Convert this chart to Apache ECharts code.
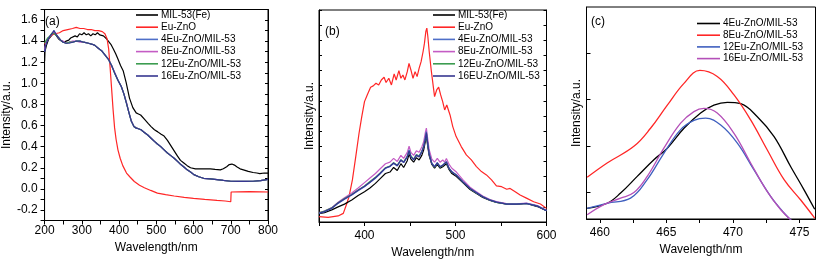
<!DOCTYPE html>
<html>
<head>
<meta charset="utf-8">
<script src="https://cdn.jsdelivr.net/npm/echarts@6/dist/echarts.min.js"></script>
<style>
  html, body { margin: 0; padding: 0; background: #fff; }
  #chart { width: 819px; height: 266px; }
</style>
</head>
<body>
<div id="chart"></div>
<script>
/* ---------------- panel (a): UV-vis ---------------- */
const aMilWl = [200, 201, 205, 211, 218, 225, 232, 238, 245, 252, 258, 265, 270, 275, 282, 288, 294, 300, 306, 312, 318, 324, 330, 336, 342, 348, 353, 358, 362, 367, 371, 378, 384, 391, 397, 404, 411, 419, 428, 437, 446, 452, 458, 468, 478, 486, 495, 504, 512, 521, 530, 539, 548, 557, 565, 574, 583, 592, 605, 619, 632, 645, 658, 672, 680, 689, 696, 703, 710, 716, 725, 734, 747, 760, 770, 778, 790, 800];
const aMil = [1.21, 1.30, 1.36, 1.42, 1.45, 1.48, 1.45, 1.42, 1.40, 1.39, 1.40, 1.41, 1.43, 1.42, 1.45, 1.44, 1.47, 1.46, 1.48, 1.46, 1.47, 1.45, 1.47, 1.46, 1.48, 1.46, 1.47, 1.45, 1.44, 1.42, 1.41, 1.37, 1.33, 1.28, 1.23, 1.17, 1.12, 1.01, 0.86, 0.77, 0.72, 0.71, 0.70, 0.66, 0.62, 0.59, 0.56, 0.54, 0.52, 0.50, 0.46, 0.41, 0.36, 0.31, 0.27, 0.245, 0.22, 0.20, 0.19, 0.19, 0.19, 0.19, 0.185, 0.18, 0.19, 0.21, 0.23, 0.235, 0.225, 0.21, 0.19, 0.18, 0.165, 0.155, 0.15, 0.145, 0.15, 0.15];

const aZnoWl = [200, 205, 212, 220, 228, 240, 250, 262, 275, 285, 295, 305, 315, 325, 335, 345, 355, 362, 368, 372, 376, 380, 384, 388, 392, 397, 403, 410, 420, 430, 441, 455, 468, 485, 503, 525, 548, 575, 600, 630, 663, 685, 700, 701, 720, 751, 780, 800];
const aZno = [1.37, 1.40, 1.43, 1.46, 1.47, 1.48, 1.50, 1.51, 1.52, 1.53, 1.52, 1.52, 1.51, 1.51, 1.50, 1.50, 1.49, 1.47, 1.42, 1.33, 1.15, 0.95, 0.75, 0.58, 0.47, 0.37, 0.29, 0.22, 0.15, 0.11, 0.07, 0.035, 0.01, -0.015, -0.04, -0.055, -0.068, -0.08, -0.09, -0.10, -0.11, -0.115, -0.122, -0.03, -0.028, -0.027, -0.028, -0.03];

const aMixWl = [200, 203, 208, 215, 220, 225, 230, 236, 243, 250, 258, 266, 275, 285, 295, 305, 318, 328, 335, 345, 353, 362, 371, 380, 389, 397, 406, 413, 420, 426, 433, 440, 446, 452, 459, 468, 477, 486, 495, 503, 512, 521, 530, 539, 548, 557, 566, 575, 583, 592, 601, 614, 627, 645, 663, 680, 700, 720, 740, 760, 780, 800];
const a4Eu = [1.30, 1.37, 1.41, 1.45, 1.47, 1.50, 1.47, 1.44, 1.41, 1.39, 1.38, 1.39, 1.39, 1.40, 1.40, 1.39, 1.38, 1.37, 1.36, 1.33, 1.31, 1.27, 1.23, 1.17, 1.09, 1.03, 0.97, 0.90, 0.81, 0.73, 0.64, 0.59, 0.575, 0.57, 0.56, 0.535, 0.51, 0.48, 0.45, 0.425, 0.40, 0.37, 0.34, 0.315, 0.29, 0.26, 0.23, 0.205, 0.18, 0.16, 0.135, 0.115, 0.10, 0.095, 0.088, 0.08, 0.072, 0.07, 0.07, 0.072, 0.078, 0.09];
const a8Eu = [1.32, 1.38, 1.42, 1.45, 1.47, 1.49, 1.47, 1.44, 1.41, 1.40, 1.38, 1.39, 1.40, 1.40, 1.39, 1.39, 1.38, 1.37, 1.36, 1.33, 1.31, 1.27, 1.23, 1.17, 1.10, 1.03, 0.97, 0.90, 0.82, 0.73, 0.645, 0.59, 0.58, 0.57, 0.56, 0.535, 0.51, 0.48, 0.45, 0.425, 0.40, 0.37, 0.34, 0.315, 0.29, 0.26, 0.23, 0.205, 0.18, 0.16, 0.135, 0.115, 0.10, 0.094, 0.087, 0.08, 0.072, 0.07, 0.07, 0.072, 0.078, 0.09];
const a12Eu = [1.38, 1.40, 1.43, 1.45, 1.48, 1.49, 1.46, 1.44, 1.41, 1.39, 1.38, 1.39, 1.39, 1.40, 1.40, 1.39, 1.38, 1.37, 1.36, 1.33, 1.31, 1.27, 1.23, 1.17, 1.09, 1.03, 0.97, 0.90, 0.81, 0.73, 0.64, 0.59, 0.578, 0.57, 0.56, 0.535, 0.51, 0.48, 0.45, 0.425, 0.40, 0.37, 0.34, 0.315, 0.29, 0.26, 0.23, 0.205, 0.18, 0.16, 0.135, 0.115, 0.10, 0.095, 0.088, 0.08, 0.072, 0.07, 0.07, 0.072, 0.078, 0.09];
const a16Eu = [1.30, 1.36, 1.41, 1.45, 1.47, 1.50, 1.47, 1.44, 1.41, 1.39, 1.38, 1.38, 1.39, 1.40, 1.40, 1.39, 1.38, 1.37, 1.36, 1.33, 1.31, 1.27, 1.23, 1.17, 1.09, 1.03, 0.97, 0.90, 0.81, 0.73, 0.64, 0.59, 0.575, 0.57, 0.56, 0.535, 0.51, 0.48, 0.45, 0.425, 0.40, 0.37, 0.34, 0.315, 0.29, 0.26, 0.23, 0.205, 0.18, 0.16, 0.135, 0.115, 0.10, 0.095, 0.088, 0.08, 0.072, 0.07, 0.07, 0.072, 0.078, 0.09];

/* ---------------- panel (b): PL spectra ---------------- */
const bZnoWl = [350, 360, 371, 376.7, 380, 383, 386.7, 390.4, 394, 397, 400, 403, 406.7, 409.6, 412.6, 415.6, 418.5, 421.5, 423.7, 426.7, 429.6, 432.6, 434.8, 437.8, 440, 442.2, 444.4, 447, 448.9, 451, 453.3, 455.6, 457.8, 460, 462.2, 464.4, 465.9, 467.4, 468.5, 469.6, 471.1, 473.3, 475.6, 477, 479.3, 481.5, 483.7, 485.9, 488.1, 490.4, 491.9, 494, 497, 500.7, 506.3, 511.9, 517.4, 523, 528.5, 534, 539.6, 545, 550.7, 556.3, 560, 565.6, 571, 578.5, 585.9, 593.3, 600];
const bZno = [0.35, 0.31, 0.40, 0.57, 1.12, 1.67, 2.78, 4.32, 5.86, 6.96, 7.95, 8.39, 8.90, 8.99, 9.16, 9.05, 9.38, 9.56, 9.21, 9.49, 9.05, 9.78, 9.38, 10.0, 9.49, 9.71, 9.38, 9.93, 10.48, 10.04, 9.49, 9.93, 9.60, 10.15, 10.59, 11.26, 11.81, 12.58, 12.80, 12.25, 11.26, 10.04, 8.94, 8.28, 8.72, 8.90, 8.39, 7.95, 7.40, 7.73, 7.84, 7.07, 6.30, 5.64, 4.98, 4.43, 4.10, 3.66, 3.33, 3.11, 2.78, 2.38, 2.33, 2.16, 2.22, 2.00, 1.78, 1.56, 1.34, 1.19, 0.90];

const bMixWl = [350, 356, 364, 371, 378, 386, 393, 400, 406, 412, 417, 423, 428, 432, 436, 440, 443, 447, 449, 451, 454, 457, 460, 463, 465, 467, 468, 469, 471, 474, 477, 480, 483, 486, 488, 490, 493, 496, 501, 508, 516, 523, 530, 538, 545, 556, 567, 578, 590, 600];
const bMil = [0.55, 0.62, 0.80, 1.00, 1.18, 1.45, 1.75, 2.00, 2.25, 2.55, 2.85, 3.20, 3.30, 3.60, 3.40, 3.85, 3.60, 4.05, 4.50, 4.15, 3.95, 4.25, 4.10, 4.40, 4.75, 5.35, 5.75, 5.20, 4.40, 3.80, 3.55, 3.80, 3.55, 3.65, 3.55, 3.85, 3.45, 3.20, 3.00, 2.60, 2.15, 1.88, 1.62, 1.42, 1.30, 1.20, 1.16, 1.22, 1.02, 0.74];
const b4Eu = [0.57, 0.68, 0.90, 1.23, 1.50, 1.78, 2.07, 2.33, 2.60, 2.89, 3.17, 3.55, 3.66, 3.88, 3.70, 4.10, 3.92, 4.32, 4.76, 4.32, 4.10, 4.43, 4.32, 4.65, 4.98, 5.64, 5.97, 5.42, 4.54, 3.88, 3.66, 3.92, 3.66, 3.77, 3.66, 3.99, 3.55, 3.33, 3.11, 2.67, 2.22, 1.94, 1.67, 1.45, 1.32, 1.19, 1.19, 1.23, 1.06, 0.75];
const b8Eu = [0.62, 0.72, 0.95, 1.30, 1.60, 1.92, 2.25, 2.60, 2.90, 3.20, 3.50, 3.85, 3.95, 4.20, 4.00, 4.40, 4.20, 4.60, 5.00, 4.60, 4.40, 4.70, 4.60, 4.95, 5.30, 5.95, 6.20, 5.70, 4.80, 4.15, 3.95, 4.20, 3.95, 4.10, 3.95, 4.20, 3.80, 3.55, 3.30, 2.80, 2.30, 2.00, 1.72, 1.48, 1.35, 1.22, 1.20, 1.25, 1.08, 0.78];
const b12Eu = [0.60, 0.72, 0.93, 1.27, 1.55, 1.82, 2.12, 2.38, 2.68, 2.95, 3.22, 3.58, 3.70, 3.92, 3.75, 4.12, 3.96, 4.35, 4.72, 4.36, 4.15, 4.46, 4.35, 4.68, 5.00, 5.55, 5.85, 5.35, 4.50, 3.85, 3.62, 3.88, 3.62, 3.74, 3.62, 3.95, 3.52, 3.30, 3.10, 2.65, 2.20, 1.92, 1.66, 1.44, 1.30, 1.18, 1.18, 1.22, 1.05, 0.74];
const b16Eu = [0.58, 0.69, 0.91, 1.25, 1.52, 1.80, 2.10, 2.36, 2.63, 2.92, 3.20, 3.56, 3.68, 3.90, 3.72, 4.08, 3.94, 4.30, 4.70, 4.30, 4.12, 4.40, 4.30, 4.62, 4.95, 5.50, 5.90, 5.40, 4.50, 3.86, 3.64, 3.90, 3.64, 3.75, 3.64, 3.96, 3.52, 3.31, 3.09, 2.66, 2.21, 1.93, 1.66, 1.44, 1.31, 1.18, 1.18, 1.22, 1.05, 0.74];

/* ---------------- panel (c): zoom on 468 nm peak ---------------- */
const c4EuWl = [459.05, 460.55, 461.56, 462.81, 464.06, 465.07, 466.32, 467.57, 468.57, 469.58, 470.58, 471.83, 473.09, 474.34, 475.34, 476.14];
const c4Eu = [0.65, 0.76, 0.98, 1.34, 1.70, 1.95, 2.38, 2.71, 2.88, 2.94, 2.91, 2.63, 2.20, 1.55, 1.05, 0.63];
const c8EuWl = [459.05, 460.55, 462.56, 463.81, 465.07, 466.32, 467.52, 468.82, 470.08, 471.33, 472.58, 473.84, 475.09, 476.14];
const c8Eu = [1.32, 1.63, 1.99, 2.38, 2.88, 3.35, 3.63, 3.50, 3.10, 2.56, 1.91, 1.27, 0.83, 0.44];
const c12EuWl = [459.05, 460.55, 462.31, 463.56, 464.81, 466.07, 467.07, 467.95, 469.08, 470.33, 471.58, 472.83, 473.84, 474.46];
const c12Eu = [0.65, 0.76, 0.87, 1.27, 1.84, 2.35, 2.55, 2.60, 2.45, 2.06, 1.48, 0.91, 0.55, 0.37];
const c16EuWl = [459.05, 460.30, 461.56, 462.56, 463.56, 464.81, 466.07, 467.07, 467.82, 468.82, 470.08, 471.33, 472.58, 473.59, 474.46];
const c16Eu = [0.51, 0.73, 0.87, 0.99, 1.34, 1.95, 2.49, 2.74, 2.81, 2.71, 2.27, 1.63, 1.01, 0.62, 0.37];

const cXTicks = [460, 462.5, 465, 467.5, 470, 472.5, 475];
const cXLabels = [460, 465, 470, 475];
const cYTicks = [1, 2, 3, 4];

const FONT = 'Liberation Sans, Arial, sans-serif';
const BLACK = '#000';
const RED = '#ff2626';
const BLUE = '#4f6fc8';
const PINK = '#c45cc4';
const GREEN = '#3c9c50';
const NAVY = '#363690';
const C_BLUE = '#3f5fbf';
const C_PURPLE = '#b44fb8';

const zip = (xs, ys) => xs.map((x, i) => [x, ys[i]]);

const baseText = { fontFamily: FONT, fontSize: 12, color: '#000' };

const xAxisOf = (grid, min, max, extra) => ({
  type: 'value',
  gridIndex: grid,
  min,
  max,
  name: 'Wavelength/nm',
  nameLocation: 'middle',
  nameTextStyle: baseText,
  axisLine: { show: true, onZero: false, lineStyle: { color: BLACK, width: 1 } },
  axisTick: { show: true, length: 4, lineStyle: { color: BLACK } },
  splitLine: { show: false },
  ...extra,
});

const yAxisOf = (grid, min, max, extra) => ({
  type: 'value',
  gridIndex: grid,
  min,
  max,
  axisLine: { show: true, onZero: false, lineStyle: { color: BLACK, width: 1 } },
  splitLine: { show: false },
  ...extra,
});

const line = (name, data, color, xi, yi, extra) => ({
  type: 'line',
  name,
  data,
  xAxisIndex: xi,
  yAxisIndex: yi,
  symbol: 'none',
  lineStyle: { color, width: 1.2 },
  itemStyle: { color },
  animation: false,
  ...extra,
});

// plain line swatches, no symbol
const legendOf = (names, left, top, gap, width) => ({
  data: names.map(n => ({ name: n, icon: 'rect' })),
  orient: 'vertical',
  left,
  top,
  itemWidth: width,
  itemHeight: 1.6,
  itemGap: gap,
  padding: 0,
  textStyle: { fontFamily: FONT, fontSize: 10, color: '#000', lineHeight: 10, padding: [0, 0, 0, -2] },
});

const chart = echarts.init(document.getElementById('chart'), null, { renderer: 'canvas' });

chart.setOption({
  animation: false,
  backgroundColor: '#fff',
  grid: [
    { left: 42, top: 9.5, right: 551, bottom: 45.5, show: true, borderColor: BLACK, borderWidth: 1 },
    { left: 319, top: 10, right: 272.5, bottom: 44, show: true, borderColor: BLACK, borderWidth: 1 },
    { left: 586.5, top: 7, right: 3.5, bottom: 47, show: true, borderColor: BLACK, borderWidth: 1 },
  ],
  xAxis: [
    xAxisOf(0, 200, 800, {
      interval: 50,
      nameGap: 19,
      axisLabel: { ...baseText, margin: 4, formatter: v => (v % 100 === 0 ? String(v) : '') },
    }),
    xAxisOf(1, 350, 600, {
      interval: 50,
      nameGap: 21,
      axisLabel: { ...baseText, margin: 8, formatter: v => (v % 100 === 0 ? String(v) : '') },
    }),
    xAxisOf(2, 459, 476.2, {
      nameGap: 22,
      axisTick: { show: true, length: 4, customValues: cXTicks, lineStyle: { color: BLACK } },
      axisLabel: { ...baseText, margin: 8, customValues: cXLabels },
    }),
  ],
  yAxis: [
    yAxisOf(0, -0.3, 1.7, {
      interval: 0.1,
      name: 'Intensity/a.u.',
      nameLocation: 'middle',
      nameGap: 25,
      nameTextStyle: baseText,
      axisTick: { show: true, length: 4, lineStyle: { color: BLACK } },
      axisLabel: {
        ...baseText,
        margin: 7,
        formatter: v => (Math.round(v * 10) % 2 === 0 ? v.toFixed(1) : ''),
      },
    }),
    yAxisOf(1, 0, 14, {
      interval: 1,
      name: 'Intensity/a.u.',
      nameLocation: 'middle',
      nameGap: 3,
      nameTextStyle: baseText,
      axisTick: { show: true, inside: true, length: 3, lineStyle: { color: BLACK } },
      axisLabel: { show: false },
    }),
    yAxisOf(2, 0.42, 5, {
      name: 'Intensity/a.u.',
      nameLocation: 'middle',
      nameGap: 4,
      nameTextStyle: baseText,
      axisTick: { show: true, inside: true, length: 4, customValues: cYTicks, lineStyle: { color: BLACK } },
      axisLabel: { show: false },
    }),
    yAxisOf(0, -0.3, 1.7, {
      position: 'right',
      interval: 0.1,
      axisTick: { show: true, inside: true, length: 3, lineStyle: { color: BLACK } },
      axisLabel: { show: false },
    }),
    yAxisOf(1, 0, 14, {
      position: 'right',
      interval: 1,
      axisTick: { show: true, inside: true, length: 3, lineStyle: { color: BLACK } },
      axisLabel: { show: false },
    }),
  ],
  legend: [
    legendOf(['MIL-53(Fe)', 'Eu-ZnO', '4Eu-ZnO/MIL-53', '8Eu-ZnO/MIL-53', '12Eu-ZnO/MIL-53', '16Eu-ZnO/MIL-53'], 136, 10, 2.2, 22),
    legendOf(['MIL-53(Fe) ', 'Eu-ZnO ', '4Eu-ZnO/MIL-53 ', '8Eu-ZnO/MIL-53 ', '12Eu-ZnO/MIL-53 ', '16EU-ZnO/MIL-53'], 433, 10, 2.2, 22),
    legendOf(['4Eu-ZnO/MIL-53  ', '8Eu-ZnO/MIL-53  ', '12Eu-ZnO/MIL-53  ', '16Eu-ZnO/MIL-53  '], 697, 18.5, 1.7, 23),
  ],
  graphic: [
    { type: 'text', left: 45, top: 16, style: { text: '(a)', font: '12px ' + FONT, fill: '#000' } },
    { type: 'text', left: 325, top: 26, style: { text: '(b)', font: '12px ' + FONT, fill: '#000' } },
    { type: 'text', left: 591, top: 16, style: { text: '(c)', font: '12px ' + FONT, fill: '#000' } },
  ],
  series: [
    line('MIL-53(Fe)', zip(aMilWl, aMil), BLACK, 0, 0),
    line('Eu-ZnO', zip(aZnoWl, aZno), RED, 0, 0),
    line('4Eu-ZnO/MIL-53', zip(aMixWl, a4Eu), BLUE, 0, 0),
    line('8Eu-ZnO/MIL-53', zip(aMixWl, a8Eu), PINK, 0, 0),
    line('12Eu-ZnO/MIL-53', zip(aMixWl, a12Eu), GREEN, 0, 0),
    line('16Eu-ZnO/MIL-53', zip(aMixWl, a16Eu), NAVY, 0, 0),

    line('Eu-ZnO ', zip(bZnoWl, bZno), RED, 1, 1),
    line('MIL-53(Fe) ', zip(bMixWl, bMil), BLACK, 1, 1),
    line('8Eu-ZnO/MIL-53 ', zip(bMixWl, b8Eu), PINK, 1, 1),
    line('12Eu-ZnO/MIL-53 ', zip(bMixWl, b12Eu), GREEN, 1, 1),
    line('4Eu-ZnO/MIL-53 ', zip(bMixWl, b4Eu), BLUE, 1, 1),
    line('16EU-ZnO/MIL-53', zip(bMixWl, b16Eu), NAVY, 1, 1),

    line('4Eu-ZnO/MIL-53  ', zip(c4EuWl, c4Eu), BLACK, 2, 2, { smooth: 0.4, lineStyle: { color: BLACK, width: 1.3 } }),
    line('8Eu-ZnO/MIL-53  ', zip(c8EuWl, c8Eu), RED, 2, 2, { smooth: 0.4, lineStyle: { color: RED, width: 1.3 } }),
    line('12Eu-ZnO/MIL-53  ', zip(c12EuWl, c12Eu), C_BLUE, 2, 2, { smooth: 0.4, lineStyle: { color: C_BLUE, width: 1.3 } }),
    line('16Eu-ZnO/MIL-53  ', zip(c16EuWl, c16Eu), C_PURPLE, 2, 2, { smooth: 0.4, lineStyle: { color: C_PURPLE, width: 1.3 } }),
  ],
});
</script>
</body>
</html>
